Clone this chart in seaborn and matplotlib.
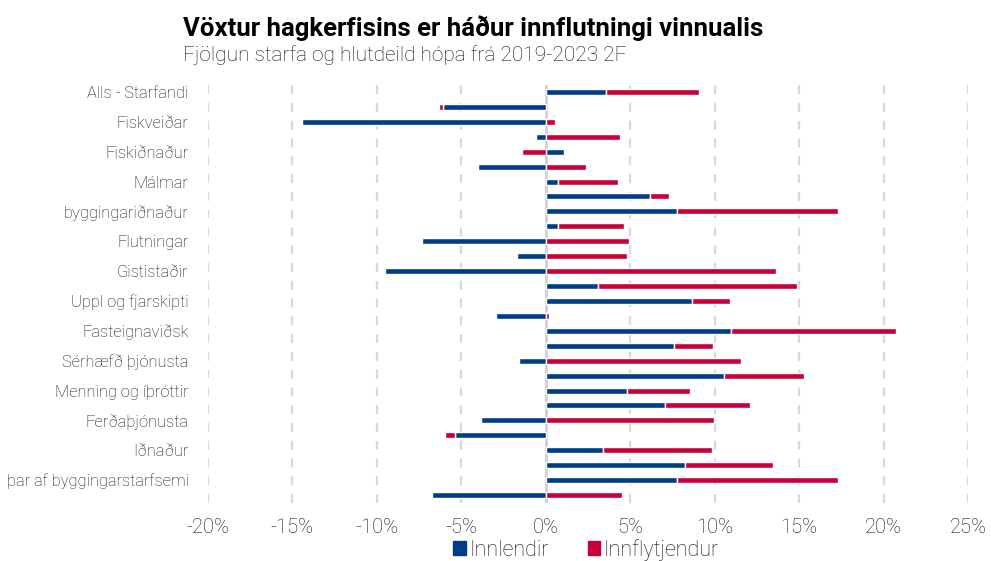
import numpy as np
import pandas as pd
import seaborn as sns
import matplotlib.pyplot as plt
from matplotlib.patches import Patch

# categories, top to bottom (only every other label is printed on the chart)
categories = ['Alls - Starfandi', 'Landbúnaður', 'Fiskveiðar', 'Námuvinnsla',
              'Fiskiðnaður', 'Matvælaiðnaður', 'Málmar', 'Annar iðnaður',
              'byggingariðnaður', 'Veitur', 'Flutningar', 'Verslun',
              'Gististaðir', 'Veitingar', 'Uppl og fjarskipti', 'Fjármál',
              'Fasteignaviðsk', 'Vísindi', 'Sérhæfð þjónusta', 'Stjórnsýsla',
              'Menning og íþróttir', 'Fræðsla', 'Ferðaþjónusta', 'Heilbrigði',
              'Iðnaður', 'Þjónusta', 'þar af byggingarstarfsemi', 'Önnur starfsemi']
innlendir = [3.55, -6.1, -14.45, -0.6, 1.05, -4.0, 0.72, 6.16, 7.78, 0.72,
             -7.35, -1.68, -9.5, 3.1, 8.65, -2.94, 10.98, 7.58, -1.6, 10.57,
             4.82, 7.07, -3.85, -5.35, 3.4, 8.25, 7.78, -6.75]
innflytjendur = [5.5, -0.2, 0.55, 4.4, -1.4, 2.4, 3.58, 1.14, 9.5, 3.94,
                 4.9, 4.8, 13.65, 11.8, 2.25, 0.2, 9.77, 2.3, 11.57, 4.74,
                 3.73, 5.02, 9.99, -0.63, 6.45, 5.2, 9.52, 4.54]
xticks = [-20, -15, -10, -5, 0, 5, 10, 15, 20, 25]

blue = '#003D85'
red = '#C8003A'

df = pd.DataFrame({'flokkur': categories, 'Innlendir': innlendir,
                   'Innflytjendur': innflytjendur})
# red segment continues from the blue one when both have the same sign
df['rstart'] = np.where(np.sign(df.Innlendir) == np.sign(df.Innflytjendur),
                        df.Innlendir, 0)

sns.set_style('white')
plt.rcParams['font.family'] = ['Roboto', 'DejaVu Sans']

fig = plt.figure(figsize=(9.91, 5.61), dpi=100)
ax = fig.add_axes([208 / 991, 1 - 502.5 / 561, 760 / 991, 418 / 561])

for x in xticks:
    if x == 0:
        continue
    ax.axvline(x, color='#d9d9d9', lw=1.6, ls=(0, (4, 4)), zorder=0)
ax.axvline(0, color='#d0d0d0', lw=2.0, zorder=0)

sns.barplot(data=df, y='flokkur', x='Innlendir', orient='y', color=blue,
            width=0.4, saturation=1, ax=ax, zorder=2)
ax.barh(np.arange(len(df)), df.Innflytjendur, left=df.rstart, height=0.4,
        color=red, zorder=2)

ax.set_xlim(-20, 25)
ax.set_ylim(len(df) - 0.5, -0.5)
ax.set_xticks(xticks)
ax.set_xticklabels([f'{x}%' for x in xticks], fontsize=14.5, fontweight='light')
ax.set_yticks(range(len(df)))
ax.set_yticklabels(categories, fontsize=11.8, fontweight='light')
for i, lab in enumerate(ax.get_yticklabels()):
    lab.set_visible(i % 2 == 0)
ax.tick_params(axis='x', length=0, pad=11, colors='#111111')
ax.tick_params(axis='y', length=0, pad=14, colors='#111111')
ax.set_xlabel('')
ax.set_ylabel('')
sns.despine(ax=ax, left=True, bottom=True)

fig.text(183 / 991, 1 - 36 / 561, 'Vöxtur hagkerfisins er háður innflutningi vinnualis',
         fontsize=18.5, fontweight='bold', color='#000000')
fig.text(183 / 991, 1 - 61 / 561, 'Fjölgun starfa og hlutdeild hópa frá 2019-2023 2F',
         fontsize=15, fontweight='light', color='#111111')

handles = [Patch(color=blue, label='Innlendir'), Patch(color=red, label='Innflytjendur')]
fig.legend(handles=handles, loc='center', bbox_to_anchor=(586 / 991, 1 - 550 / 561),
           ncol=2, frameon=False, handlelength=0.6, handleheight=0.6,
           handletextpad=0.15, columnspacing=1.8, labelcolor='#111111',
           prop={'weight': 'light', 'size': 15.5})

fig.savefig('out.png', dpi=100)
